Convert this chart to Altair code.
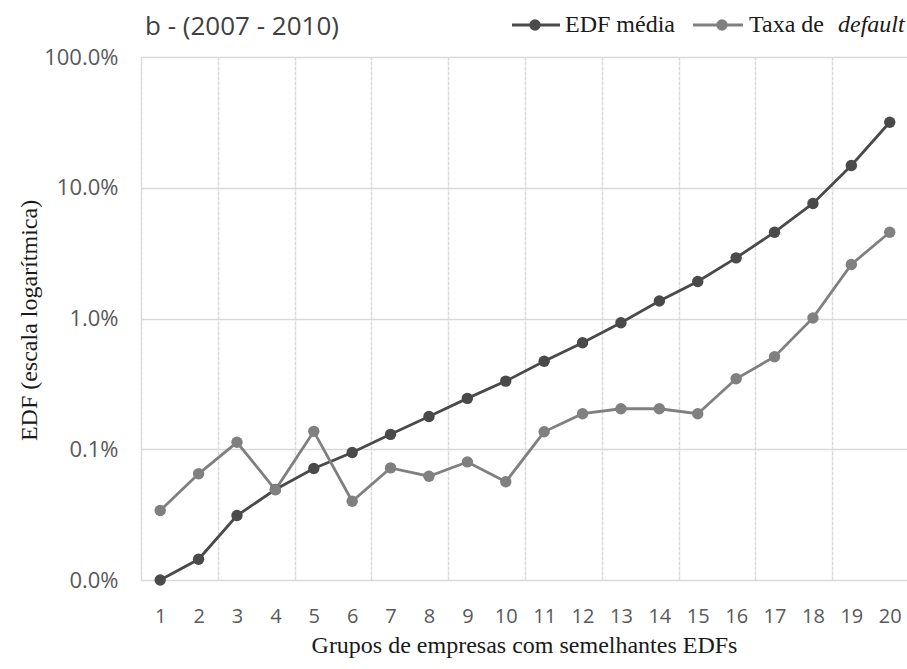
import altair as alt
import pandas as pd

# Groups of firms with similar EDFs (2007-2010)
grupos = list(range(1, 21))
series = ["EDF média", "Taxa de default"]
cores = ["#4a4a4a", "#808080"]

# values in percent
edf_media = [0.0100, 0.0144, 0.0311, 0.0492, 0.0713, 0.0944, 0.130, 0.178, 0.245, 0.332,
             0.471, 0.652, 0.927, 1.36, 1.92, 2.91, 4.57, 7.58, 14.8, 31.7]
taxa_default = [0.034, 0.0649, 0.113, 0.049, 0.137, 0.040, 0.072, 0.0622, 0.080, 0.0564,
                0.136, 0.187, 0.204, 0.204, 0.187, 0.346, 0.510, 1.01, 2.59, 4.57]

y_ticks = [0.0001, 0.001, 0.01, 0.1, 1.0]
grid_x = [g + 0.5 for g in range(0, 20, 2)]
titulo = "b - (2007 - 2010)"

rows = []
for nome, valores in zip(series, [edf_media, taxa_default]):
    for g, v in zip(grupos, valores):
        rows.append({"grupo": g, "serie": nome, "valor": v / 100.0})
df = pd.DataFrame(rows)

sans = "Open Sans"
serif = "Liberation Serif"

x_scale = alt.Scale(domain=[0.5, 20.45], nice=False, zero=False)
y_scale = alt.Scale(type="log", domain=[0.0001, 1.0], nice=False)
y_axis = alt.Axis(
    values=y_ticks, format=".1%", ticks=False, domain=False, grid=True,
    gridColor="#d9d9d9", gridWidth=1.6,
    labelFont=sans, labelFontSize=22, labelColor="#595959", labelPadding=23,
    title="EDF (escala logarítmica)", titleFont=serif, titleFontSize=24,
    titleFontWeight="normal", titleColor="#1a1a1a",
    titleX=-112, titleY=263, titleBaseline="middle", titleAlign="center",
)
x_axis = alt.Axis(
    values=grupos, format="d", ticks=False, domain=False, grid=False,
    labelFont=sans, labelFontSize=20, labelColor="#595959", labelPadding=26,
    title="Grupos de empresas com semelhantes EDFs", titleFont=serif,
    titleFontSize=24, titleFontWeight="normal", titleColor="#1a1a1a",
    titleY=72, titleBaseline="alphabetic",
)
grid_axis = alt.Axis(
    orient="top", values=grid_x, labels=False, ticks=False, domain=False,
    grid=True, gridColor="#d9d9d9", gridWidth=1.5, gridDash=[4, 1], title=None,
)
color = alt.Color("serie:N", scale=alt.Scale(domain=series, range=cores), legend=None)

base = alt.Chart(df).encode(
    y=alt.Y("valor:Q", scale=y_scale, axis=y_axis),
    color=color,
)
lines = base.mark_line(strokeWidth=2.8).encode(
    x=alt.X("grupo:Q", scale=x_scale, axis=x_axis)
)
points = base.mark_point(filled=True, size=130, opacity=1).encode(
    x=alt.X("grupo:Q", scale=x_scale, axis=grid_axis)
)

one = pd.DataFrame({"k": [0]})

# chart heading, top left
heading = alt.Chart(one).mark_text(
    align="left", baseline="alphabetic", font=sans, fontSize=26, color="#404040"
).encode(x=alt.value(4), y=alt.value(-22), text=alt.value(titulo))

# legend drawn above the plot, with "default" in italics
leg_y = -32
legend_layers = []
for cor, (x0, x1, xp) in zip(cores, [(371, 419, 394), (552, 602, 581)]):
    legend_layers.append(
        alt.Chart(one).mark_rule(strokeWidth=2.8, color=cor).encode(
            x=alt.value(x0), x2=alt.value(x1), y=alt.value(leg_y))
    )
    legend_layers.append(
        alt.Chart(one).mark_point(filled=True, size=130, opacity=1, color=cor).encode(
            x=alt.value(xp), y=alt.value(leg_y))
    )
legend_texts = [("EDF média", 424, "normal"), ("Taxa de", 608, "normal"), ("default", 697, "italic")]
for txt, xt, style in legend_texts:
    legend_layers.append(
        alt.Chart(one).mark_text(align="left", baseline="alphabetic", font=serif, fontSize=24,
                                 fontStyle=style, color="#1a1a1a").encode(
            x=alt.value(xt), y=alt.value(-25), text=alt.value(txt))
    )

chart = alt.layer(lines, points, heading, *legend_layers).resolve_axis(x="independent").properties(
    width=766,
    height=523,
    autosize=alt.AutoSizeParams(type="none"),
    padding={"left": 141, "top": 57, "right": 0, "bottom": 89},
).configure_view(stroke=None).configure(background="white")

chart.save("out.html", embed_options={"renderer": "svg", "actions": False})
